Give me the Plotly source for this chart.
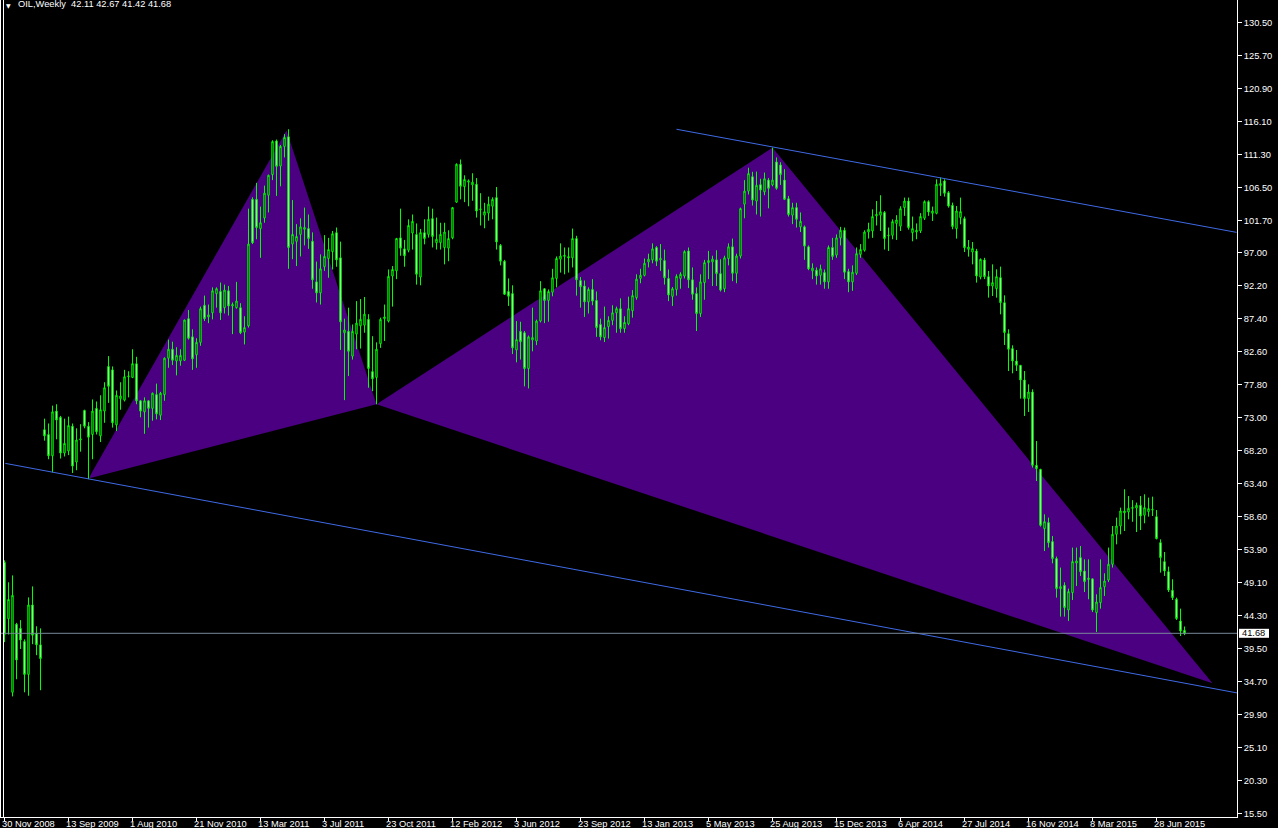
import plotly.graph_objects as go

# ---------------- data ----------------
# MT4 bar index (weekly bars, history has gaps so bars are evenly spaced by index)
bar = list(range(1, 297))

opens = [52.0, 43.8, 33.1, 43.0, 42.4, 40.5, 35.7, 45.8, 41.7, 40.0,
         71.3, 70.6, 67.5, 74.0, 73.1, 67.9, 68.2, 71.8, 66.6, 69.8,
         74.1, 71.8, 70.6, 74.4, 70.4, 74.0, 80.5, 80.0, 72.0, 75.8,
         75.6, 79.0, 78.9, 80.9, 75.5, 73.9, 75.5, 74.4, 76.4, 73.4,
         76.4, 81.7, 83.0, 81.3, 81.3, 81.4, 87.45, 84.8, 82.2, 84.0,
         89.4, 87.7, 88.3, 91.1, 91.4, 89.05, 91.5, 89.3, 89.05, 89.05,
         85.5, 86.4, 104.8, 104.8, 100.55, 102.1, 105.4, 108.4, 113.3, 109.65,
         112.5, 113.9, 98.3, 98.7, 99.7, 100.45, 100.55, 98.7, 92.8, 91.2,
         95.0, 96.2, 97.2, 99.96, 96.3, 85.4, 85.6, 82.0, 85.2, 86.4,
         86.5, 87.35, 79.75, 78.9, 83.8, 87.45, 87.1, 93.65, 94.4, 99.2,
         97.6, 97.4, 99.9, 99.7, 93.5, 99.96, 99.7, 102.0, 98.5, 98.5,
         97.8, 97.7, 99.2, 104.4, 109.9, 106.65, 107.3, 106.9, 107.0, 103.3,
         102.5, 102.8, 103.8, 105.06, 98.1, 95.8, 91.4, 91.1, 82.9, 85.6,
         85.4, 80.2, 84.35, 84.2, 87.1, 91.8, 90.1, 91.3, 93.3, 96.1,
         96.5, 96.47, 96.3, 99.1, 93.0, 92.2, 89.9, 91.7, 90.1, 86.6,
         84.7, 86.3, 87.2, 88.3, 88.9, 86.0, 86.7, 88.6, 90.5, 93.3,
         93.75, 95.7, 96.0, 97.8, 96.0, 95.9, 93.3, 90.7, 91.7, 93.3,
         93.65, 97.3, 93.1, 91.1, 88.2, 92.7, 95.6, 95.7, 96.0, 94.0,
         91.8, 96.2, 97.9, 94.05, 96.56, 104.1, 106.0, 108.1, 104.56, 106.94,
         105.9, 107.6, 106.9, 110.24, 109.8, 107.6, 104.9, 102.5, 103.6, 100.8,
         100.8, 97.9, 94.4, 94.5, 93.75, 94.15, 92.8, 97.8, 96.7, 99.2,
         100.3, 94.3, 92.8, 94.05, 96.8, 97.4, 100.05, 100.2, 102.4, 102.5,
         102.9, 99.5, 99.57, 101.3, 100.9, 103.6, 104.56, 99.96, 100.05, 100.2,
         102.05, 104.47, 102.77, 102.77, 106.8, 107.47, 105.78, 103.93, 100.55, 102.15,
         102.0, 97.53, 97.14, 97.29, 93.5, 95.98, 93.56, 92.2, 91.82, 93.42,
         89.78, 85.27, 83.09, 81.29, 80.66, 78.52, 75.82, 76.78, 66.12, 65.53,
         56.91, 57.78, 55.02, 52.55, 48.18, 48.66, 45.07, 47.6, 51.9, 52.69,
         50.74, 49.5, 49.6, 44.69, 46.15, 48.47, 49.43, 51.72, 56.08, 57.29,
         59.2, 59.32, 59.85, 59.9, 60.3, 58.85, 59.38, 59.6, 58.65, 54.87,
         52.11, 50.65, 47.93, 46.63, 43.47, 42.11]

highs = [52.3, 49.1, 50.1, 43.2, 43.6, 40.8, 46.9, 48.5, 42.7, 42.4,
         72.9, 72.2, 74.8, 75.0, 73.3, 72.9, 73.2, 72.2, 71.5, 72.1,
         74.2, 72.4, 75.7, 75.4, 76.3, 78.2, 82.0, 80.5, 77.0, 78.2,
         80.0, 79.8, 83.0, 81.9, 75.6, 76.0, 75.5, 76.7, 78.0, 76.8,
         81.8, 84.4, 84.1, 83.3, 83.0, 87.3, 88.7, 85.9, 84.6, 89.2,
         90.8, 89.5, 92.0, 92.0, 92.7, 92.4, 92.2, 89.8, 92.8, 89.7,
         87.8, 103.45, 105.1, 107.2, 103.75, 106.8, 108.4, 113.4, 113.5, 112.7,
         114.3, 115.0, 104.7, 101.2, 102.05, 103.6, 102.6, 100.0, 95.75, 96.8,
         99.6, 99.2, 100.2, 100.7, 98.65, 87.45, 89.05, 86.6, 90.0, 90.3,
         90.6, 88.1, 84.9, 84.0, 87.6, 89.5, 94.6, 95.1, 99.2, 103.45,
         98.9, 101.9, 102.6, 101.3, 100.5, 101.9, 103.75, 103.45, 102.15, 101.4,
         101.4, 100.3, 103.7, 110.04, 110.6, 108.3, 107.7, 108.6, 107.9, 105.7,
         104.3, 105.2, 105.1, 106.6, 98.3, 96.0, 93.3, 92.3, 87.1, 87.0,
         85.65, 85.0, 89.05, 87.3, 92.9, 91.9, 91.7, 94.7, 96.5, 98.4,
         97.8, 97.8, 100.55, 99.5, 93.5, 93.0, 92.0, 93.2, 91.4, 87.45,
         89.2, 87.8, 89.4, 89.2, 90.4, 87.8, 90.65, 91.6, 93.9, 94.7,
         96.2, 96.9, 98.4, 98.0, 98.3, 97.5, 94.6, 92.05, 93.9, 94.2,
         97.4, 97.8, 94.9, 92.0, 93.9, 96.0, 97.3, 96.6, 97.4, 96.1,
         96.6, 98.4, 99.1, 96.9, 103.6, 107.6, 109.4, 108.8, 108.84, 107.8,
         108.7, 107.9, 112.33, 110.9, 110.2, 109.2, 105.3, 104.3, 104.3, 102.9,
         101.0, 98.1, 95.5, 94.9, 95.3, 94.6, 98.1, 99.2, 99.7, 100.8,
         100.7, 94.7, 95.2, 97.8, 98.3, 100.3, 101.4, 103.35, 104.56, 105.4,
         103.1, 100.7, 101.9, 102.5, 103.8, 105.06, 105.06, 102.3, 101.3, 102.8,
         104.66, 104.66, 103.75, 107.72, 107.97, 107.72, 106.0, 104.33, 103.83, 105.06,
         102.3, 98.89, 98.6, 97.6, 96.2, 96.3, 94.38, 95.35, 94.63, 95.02,
         90.84, 85.9, 83.57, 82.89, 80.7, 79.83, 77.9, 77.17, 69.65, 65.6,
         58.99, 58.51, 55.83, 52.84, 51.24, 49.1, 48.18, 54.15, 54.15, 54.38,
         52.44, 52.44, 49.6, 47.35, 52.44, 50.41, 54.15, 57.29, 58.51, 59.96,
         62.63, 61.65, 61.05, 60.69, 61.65, 61.9, 61.42, 61.56, 59.61, 55.35,
         53.51, 51.38, 49.54, 46.87, 45.27, 42.67]

lows = [40.4, 41.5, 32.5, 35.0, 39.4, 33.1, 32.6, 40.1, 38.5, 33.4,
        69.7, 67.0, 65.1, 69.9, 67.1, 67.4, 67.6, 65.0, 65.4, 68.1,
        71.5, 64.1, 67.0, 70.6, 69.5, 72.3, 75.2, 71.6, 71.1, 74.2,
        75.4, 76.0, 78.8, 75.0, 73.1, 70.7, 71.6, 72.6, 72.8, 72.7,
        75.5, 80.3, 80.7, 79.2, 80.6, 81.3, 84.4, 80.0, 80.3, 83.5,
        87.1, 86.8, 87.35, 89.05, 87.25, 88.2, 87.9, 85.2, 88.9, 85.2,
        83.7, 86.15, 98.3, 99.0, 96.3, 101.4, 102.9, 107.6, 105.3, 106.7,
        110.9, 94.7, 96.1, 95.1, 96.5, 98.1, 97.6, 91.8, 89.8, 89.5,
        94.4, 93.4, 94.6, 95.0, 82.9, 75.6, 79.1, 81.5, 83.0, 83.1,
        85.4, 77.4, 76.9, 75.0, 83.2, 84.2, 86.9, 89.2, 93.2, 96.6,
        95.0, 97.1, 97.5, 92.4, 92.3, 98.26, 99.24, 97.8, 97.5, 97.5,
        95.35, 95.8, 99.0, 104.3, 104.8, 104.4, 103.8, 104.6, 102.15, 101.0,
        100.6, 101.7, 101.9, 97.5, 95.2, 90.9, 89.3, 82.3, 81.1, 81.5,
        77.6, 77.3, 82.7, 83.6, 86.9, 86.8, 87.0, 90.7, 92.0, 94.15,
        93.9, 94.15, 94.9, 90.8, 89.05, 87.7, 88.2, 89.4, 84.8, 84.3,
        84.05, 84.55, 86.5, 85.4, 85.4, 85.4, 86.5, 87.6, 90.2, 92.6,
        93.6, 94.9, 95.5, 95.1, 94.4, 92.4, 90.0, 89.3, 90.8, 91.8,
        93.3, 91.9, 90.2, 85.65, 87.7, 90.2, 93.2, 92.2, 92.2, 91.4,
        91.3, 95.2, 92.9, 92.6, 96.2, 102.05, 105.5, 103.9, 102.6, 102.3,
        105.4, 103.5, 106.7, 106.2, 106.9, 104.7, 102.3, 101.2, 100.7, 100.05,
        96.0, 94.5, 93.2, 92.4, 92.4, 91.8, 91.8, 96.0, 96.3, 98.1,
        93.2, 91.3, 91.5, 93.8, 96.3, 97.2, 99.1, 99.2, 101.0, 100.2,
        97.5, 97.3, 99.0, 98.9, 100.2, 102.4, 100.4, 98.7, 99.0, 99.9,
        101.8, 102.4, 101.66, 102.63, 105.3, 105.2, 103.6, 100.45, 99.09, 101.17,
        97.14, 96.47, 95.35, 92.69, 93.17, 93.2, 90.51, 90.74, 90.51, 88.08,
        83.62, 79.83, 79.5, 79.83, 75.82, 73.29, 73.87, 65.78, 63.83, 57.2,
        53.65, 54.15, 51.86, 46.87, 44.11, 44.11, 43.48, 46.52, 48.56, 50.02,
        47.69, 46.63, 44.78, 41.87, 45.27, 47.11, 49.14, 51.24, 54.62, 56.08,
        56.56, 58.26, 57.9, 56.41, 56.7, 57.68, 58.65, 58.74, 55.35, 50.51,
        50.02, 47.69, 46.52, 43.62, 41.29, 41.42]

closes = [41.5, 46.6, 47.2, 37.8, 40.7, 35.7, 45.8, 41.4, 40.0, 38.0,
          70.4, 67.5, 73.9, 72.7, 67.9, 69.3, 71.9, 66.0, 69.8, 69.95,
          71.8, 70.2, 74.0, 71.0, 74.2, 77.4, 77.6, 72.3, 76.3, 76.2,
          79.0, 79.1, 80.9, 75.5, 74.0, 75.5, 74.4, 76.6, 73.6, 76.6,
          81.7, 83.0, 81.4, 82.1, 82.1, 87.25, 84.6, 81.6, 84.0, 88.9,
          87.45, 88.0, 91.5, 91.8, 88.3, 91.6, 89.3, 89.5, 90.0, 85.4,
          86.15, 98.3, 98.5, 100.7, 101.4, 105.7, 108.3, 113.2, 109.6, 112.5,
          113.8, 97.8, 99.7, 99.4, 100.8, 100.7, 99.1, 93.1, 91.2, 94.7,
          96.5, 97.5, 99.8, 96.0, 87.0, 85.8, 82.7, 85.6, 86.8, 87.35,
          88.1, 80.2, 78.7, 83.0, 87.35, 87.7, 93.6, 94.6, 99.1, 97.7,
          96.6, 101.0, 101.6, 93.9, 99.96, 99.1, 101.9, 99.4, 99.0, 99.7,
          100.05, 99.1, 103.6, 109.9, 106.7, 107.7, 107.5, 107.3, 103.1, 103.4,
          103.0, 104.1, 104.8, 98.6, 95.8, 91.0, 90.7, 83.2, 84.4, 84.1,
          80.2, 84.8, 84.7, 87.1, 91.5, 90.1, 91.4, 93.4, 96.2, 96.56,
          96.66, 96.3, 99.1, 93.1, 92.1, 89.9, 91.7, 90.0, 86.15, 84.8,
          86.15, 87.2, 88.3, 88.9, 86.0, 86.9, 88.9, 90.8, 93.2, 93.75,
          95.5, 96.1, 97.6, 95.8, 96.2, 93.4, 90.9, 91.8, 93.6, 93.9,
          97.2, 93.1, 91.0, 88.2, 92.8, 95.6, 95.9, 96.1, 94.0, 91.6,
          96.3, 97.9, 94.05, 96.56, 103.45, 106.0, 108.55, 104.7, 106.84, 106.16,
          107.8, 106.4, 107.6, 106.4, 108.4, 104.8, 102.6, 103.6, 101.9, 101.6,
          98.0, 94.7, 94.8, 93.65, 94.7, 92.8, 97.8, 96.5, 99.2, 100.3,
          94.2, 92.8, 94.2, 96.9, 97.5, 100.05, 100.45, 102.3, 102.6, 103.0,
          99.1, 99.57, 101.56, 101.8, 103.45, 104.56, 100.69, 100.55, 100.3, 102.3,
          104.47, 102.96, 103.11, 106.99, 107.1, 105.68, 103.83, 100.84, 103.11, 103.02,
          97.78, 97.87, 97.64, 93.65, 96.08, 93.56, 92.2, 92.69, 93.56, 89.78,
          85.42, 82.99, 81.29, 80.66, 78.52, 75.82, 76.78, 66.12, 65.63, 57.39,
          57.92, 54.87, 52.55, 48.18, 48.47, 45.42, 47.75, 52.11, 52.2, 50.65,
          49.2, 49.7, 45.07, 46.23, 48.33, 49.29, 51.72, 56.08, 57.29, 59.47,
          59.47, 59.86, 59.97, 60.3, 58.74, 59.96, 59.82, 59.7, 55.45, 52.69,
          50.74, 47.98, 46.87, 43.82, 42.01, 41.68]

date_labels = ["30 Nov 2008", "13 Sep 2009", "1 Aug 2010", "21 Nov 2010", "13 Mar 2011",
               "3 Jul 2011", "23 Oct 2011", "12 Feb 2012", "3 Jun 2012", "23 Sep 2012",
               "13 Jan 2013", "5 May 2013", "25 Aug 2013", "15 Dec 2013", "6 Apr 2014",
               "27 Jul 2014", "16 Nov 2014", "8 Mar 2015", "28 Jun 2015"]
date_bars = [1, 17, 33, 49, 65, 81, 97, 113, 129, 145, 161, 177, 193, 209, 225, 241, 257, 273, 289]

price_ticks = [130.50, 125.70, 120.90, 116.10, 111.30, 106.50, 101.70, 97.00, 92.20,
               87.40, 82.60, 77.80, 73.00, 68.20, 63.40, 58.60, 53.90, 49.10, 44.30,
               39.50, 34.70, 29.90, 25.10, 20.30, 15.50]
price_tick_text = ["%.2f" % v for v in price_ticks]

# harmonic pattern points X, A, B, C, D  (bar index, price)
pattern_bar = [22, 71.5, 94, 193, 303]
pattern_price = [64.2, 114.8, 75.0, 112.3, 34.4]

# channel trend lines (bar index, price)
upper_line_bar = [169, 309]
upper_line_price = [115.0, 100.0]
lower_line_bar = [1.2, 309.2]
lower_line_price = [66.4, 33.0]

symbol = "OIL,Weekly"
last_price = closes[-1]

# ---------------- figure ----------------
FONT = "Liberation Sans, Arial, sans-serif"
GREEN = "#00FF00"
Y_RANGE = [14.96, 133.8]
X_RANGE = [-0.125, 309.125]

fig = go.Figure()
fig.add_trace(go.Candlestick(
    x=bar, open=opens, high=highs, low=lows, close=closes,
    increasing=dict(line=dict(color=GREEN, width=1), fillcolor="#000000"),
    decreasing=dict(line=dict(color=GREEN, width=1), fillcolor="#FFFFFF"),
    whiskerwidth=0, hoverinfo="skip", showlegend=False,
))

shapes = []
# pattern triangles XAB and BCD
X, A, B, Cc, D = list(zip(pattern_bar, pattern_price))
for tri in [(X, A, B), (B, Cc, D)]:
    path = "M %s,%s L %s,%s L %s,%s Z" % (tri[0][0], tri[0][1], tri[1][0], tri[1][1], tri[2][0], tri[2][1])
    shapes.append(dict(type="path", path=path, xref="x", yref="y",
                       fillcolor="#4B0082", line=dict(width=0), layer="below"))
# trend lines
for xs, ys in [(upper_line_bar, upper_line_price), (lower_line_bar, lower_line_price)]:
    shapes.append(dict(type="line", xref="x", yref="y", x0=xs[0], y0=ys[0], x1=xs[1], y1=ys[1],
                       line=dict(color="#3F6AE6", width=1), layer="above"))
# bid line
shapes.append(dict(type="line", xref="paper", yref="y", x0=0, x1=1, y0=last_price, y1=last_price,
                   line=dict(color="#778899", width=1), layer="above"))
# left window border lines
PLOT_W = 1237
for px in [0.5, 3.5]:
    shapes.append(dict(type="line", xref="paper", yref="paper", x0=px / PLOT_W, x1=px / PLOT_W,
                       y0=0, y1=1, line=dict(color="#FFFFFF", width=1), layer="above"))
# price label box
ypos = (last_price - Y_RANGE[0]) / (Y_RANGE[1] - Y_RANGE[0])
half = 4.5 / 817
shapes.append(dict(type="rect", xref="paper", yref="paper", x0=1239 / PLOT_W, x1=1269 / PLOT_W,
                   y0=ypos - half, y1=ypos + half, fillcolor="#FFFFFF", line=dict(width=0), layer="above"))

annotations = []
annotations.append(dict(xref="paper", yref="paper", x=1241 / PLOT_W, y=ypos, xanchor="left", yanchor="middle",
                        text="%.2f" % last_price, showarrow=False, borderpad=0,
                        font=dict(family=FONT, size=9.3, color="#000000")))
for b, t in zip(date_bars, date_labels):
    annotations.append(dict(xref="x", yref="paper", x=b - 0.8, y=0, xanchor="left", yanchor="top",
                            text=t, showarrow=False, borderpad=0, yshift=-1,
                            font=dict(family=FONT, size=9.3, color="#FFFFFF")))
annotations.append(dict(xref="paper", yref="paper", x=5 / PLOT_W, y=1, xanchor="left", yanchor="top",
                        text="\u25BC", showarrow=False, borderpad=0, yshift=-1,
                        font=dict(family="DejaVu Sans", size=6, color="#FFFFFF")))
annotations.append(dict(xref="paper", yref="paper", x=17 / PLOT_W, y=1, xanchor="left", yanchor="top",
                        text="%s\u00a0\u00a0%.2f %.2f %.2f %.2f" % (symbol, opens[-1], highs[-1], lows[-1], closes[-1]),
                        showarrow=False, borderpad=0, yshift=2,
                        font=dict(family=FONT, size=9.3, color="#FFFFFF")))

fig.update_layout(
    width=1278, height=828,
    margin=dict(l=0, r=41, t=0, b=11, pad=0),
    paper_bgcolor="#000000", plot_bgcolor="#000000",
    boxgap=0.5,
    showlegend=False,
    shapes=shapes, annotations=annotations,
    xaxis=dict(range=X_RANGE, showgrid=False, zeroline=False, rangeslider=dict(visible=False),
               showticklabels=False, ticks="outside", tickvals=date_bars, ticklen=3,
               tickcolor="#FFFFFF", tickwidth=1, showline=True, linecolor="#FFFFFF", linewidth=1,
               fixedrange=True),
    yaxis=dict(range=Y_RANGE, side="right", showgrid=False, zeroline=False,
               tickvals=price_ticks, ticktext=price_tick_text, ticks="outside", ticklen=4,
               tickcolor="#FFFFFF", tickwidth=1, showline=True, linecolor="#FFFFFF", linewidth=1,
               tickfont=dict(family=FONT, size=9.3, color="#FFFFFF"), fixedrange=True),
)

fig.write_html("out.html", config={"displayModeBar": False},
               post_script="document.body.style.margin='0';document.body.style.overflow='hidden';")
